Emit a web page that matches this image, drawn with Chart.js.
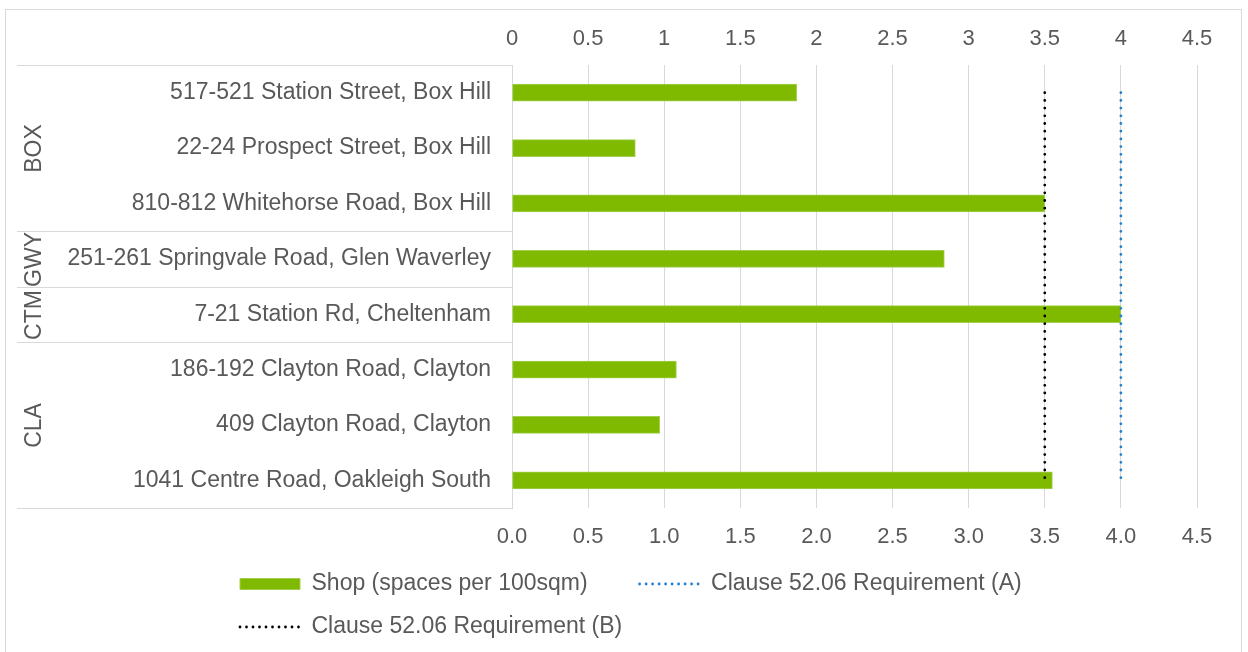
<!DOCTYPE html>
<html>
<head>
<meta charset="utf-8">
<title>Shop parking rates</title>
<script src="https://cdn.jsdelivr.net/npm/chart.js@4.4.1/dist/chart.umd.min.js"></script>
<style>
  html, body { margin: 0; padding: 0; background: #ffffff; }
</style>
</head>
<body>
<canvas id="myChart" width="1248" height="652"></canvas>
<script>
// sites, grouped by area code (top to bottom)
const sites = [
  "517-521 Station Street, Box Hill",
  "22-24 Prospect Street, Box Hill",
  "810-812 Whitehorse Road, Box Hill",
  "251-261 Springvale Road, Glen Waverley",
  "7-21 Station Rd, Cheltenham",
  "186-192 Clayton Road, Clayton",
  "409 Clayton Road, Clayton",
  "1041 Centre Road, Oakleigh South",
];
const groups = ["BOX", "GWY", "CTM", "CLA"];
const groupSizes = [3, 1, 1, 3];

// spaces per 100sqm
const shopRates = [1.87, 0.81, 3.5, 2.84, 4.0, 1.08, 0.97, 3.55];
const requirementA = [4, 4, 4, 4, 4, 4, 4, 4];
const requirementB = [3.5, 3.5, 3.5, 3.5, 3.5, 3.5, 3.5, 3.5];

const tickValues = [0, 0.5, 1, 1.5, 2, 2.5, 3, 3.5, 4, 4.5];

const textColor = "#595959";
const gridColor = "#d9d9d9";

Chart.defaults.font.family = "'Liberation Sans', Arial, sans-serif";
Chart.defaults.color = textColor;

// white background, outer frame, area-code brackets on the left
const groupBrackets = {
  id: "groupBrackets",
  afterLayout(chart) {
    // the site names run out past the padding, so let the axis box start at the edge
    chart.scales.y.left = 0;
  },
  beforeDraw(chart) {
    const ctx = chart.ctx;
    ctx.save();
    ctx.fillStyle = "#ffffff";
    ctx.fillRect(0, 0, chart.width, chart.height);
    ctx.strokeStyle = gridColor;
    ctx.lineWidth = 1;
    ctx.strokeRect(5.5, 9.5, chart.width - 12, chart.height + 20);
    ctx.restore();
  },
  afterDraw(chart) {
    const ctx = chart.ctx;
    const y = chart.scales.y;
    const right = chart.chartArea.left;
    const step = y.getPixelForValue(1) - y.getPixelForValue(0);
    const edge = (i) => Math.round(y.getPixelForValue(i) - step / 2) + 0.5;

    ctx.save();
    ctx.strokeStyle = gridColor;
    ctx.lineWidth = 1;
    ctx.fillStyle = textColor;
    ctx.font = "23px 'Liberation Sans', Arial, sans-serif";
    ctx.textAlign = "center";
    ctx.textBaseline = "middle";

    let start = 0;
    groups.forEach((name, g) => {
      const end = start + groupSizes[g];
      ctx.beginPath();
      ctx.moveTo(17, edge(start));
      ctx.lineTo(right, edge(start));
      ctx.stroke();

      const mid = (edge(start) + edge(end)) / 2;
      ctx.save();
      ctx.translate(35, mid);
      ctx.rotate(-Math.PI / 2);
      ctx.fillText(name, 0, 0);
      ctx.restore();
      start = end;
    });
    ctx.beginPath();
    ctx.moveTo(17, edge(start));
    ctx.lineTo(right, edge(start));
    ctx.stroke();
    ctx.restore();
  },
};

const ctx = document.getElementById("myChart").getContext("2d");

const myChart = new Chart(ctx, {
  type: "bar",
  data: {
    labels: sites,
    datasets: [
      {
        label: "Shop (spaces per 100sqm)",
        data: shopRates,
        backgroundColor: "#7fba00",
        borderColor: "#a3cf4f",
        borderWidth: 1,
        borderSkipped: false,
        barThickness: 17,
        xAxisID: "x",
        order: 1,
      },
      {
        type: "line",
        label: "Clause 52.06 Requirement (A)",
        data: requirementA,
        borderColor: "#1f7fd3",
        borderWidth: 2.8,
        borderDash: [0, 7.7],
        borderCapStyle: "round",
        pointRadius: 0,
        fill: false,
        xAxisID: "x",
        order: 0,
      },
      {
        type: "line",
        label: "Clause 52.06 Requirement (B)",
        data: requirementB,
        borderColor: "#000000",
        borderWidth: 2.8,
        borderDash: [0, 7.7],
        borderCapStyle: "round",
        pointRadius: 0,
        fill: false,
        xAxisID: "x",
        order: 0,
      },
    ],
  },
  options: {
    indexAxis: "y",
    responsive: false,
    animation: false,
    devicePixelRatio: 1,
    layout: {
      padding: { left: 220, right: 51, top: 10, bottom: 3.5 },
    },
    scales: {
      y: {
        type: "category",
        position: "left",
        grid: { display: false, drawTicks: false },
        border: { display: true, color: gridColor },
        ticks: { font: { size: 23 }, padding: 21, color: textColor },
        afterFit: (scale) => {
          scale.width = 292;
        },
      },
      x: {
        type: "linear",
        position: "bottom",
        min: 0,
        max: 4.5,
        afterBuildTicks: (scale) => {
          scale.ticks = tickValues.map((v) => ({ value: v }));
        },
        grid: { color: gridColor, drawTicks: false },
        border: { display: false },
        ticks: {
          font: { size: 22 },
          padding: 16,
          callback: (v) => Number(v).toFixed(1),
        },
        afterFit: (scale) => {
          scale.height = 44.5;
        },
      },
      x2: {
        type: "linear",
        position: "top",
        min: 0,
        max: 4.5,
        afterBuildTicks: (scale) => {
          scale.ticks = tickValues.map((v) => ({ value: v }));
        },
        grid: { display: false, drawTicks: false },
        border: { display: false },
        ticks: {
          font: { size: 22 },
          padding: 13,
          callback: (v) => String(v),
        },
        afterFit: (scale) => {
          scale.height = 55;
        },
      },
    },
    plugins: {
      tooltip: { enabled: false },
      legend: {
        position: "bottom",
        align: "start",
        labels: {
          font: { size: 23 },
          color: textColor,
          padding: 20,
          usePointStyle: true,
          pointStyleWidth: 60,
          boxHeight: 11,
          sort: (a, b) => a.datasetIndex - b.datasetIndex,
          generateLabels: (chart) => {
            const items = Chart.defaults.plugins.legend.labels.generateLabels(chart);
            items.forEach((item) => {
              if (item.datasetIndex === 0) {
                item.pointStyle = "rect";
                // a little room before the next entry
                item.text = item.text + "     ";
              } else {
                item.pointStyle = "line";
                item.lineDash = [0, 6.5];
                item.lineCap = "round";
              }
            });
            return items;
          },
        },
      },
    },
  },
  plugins: [groupBrackets],
});
</script>
</body>
</html>
